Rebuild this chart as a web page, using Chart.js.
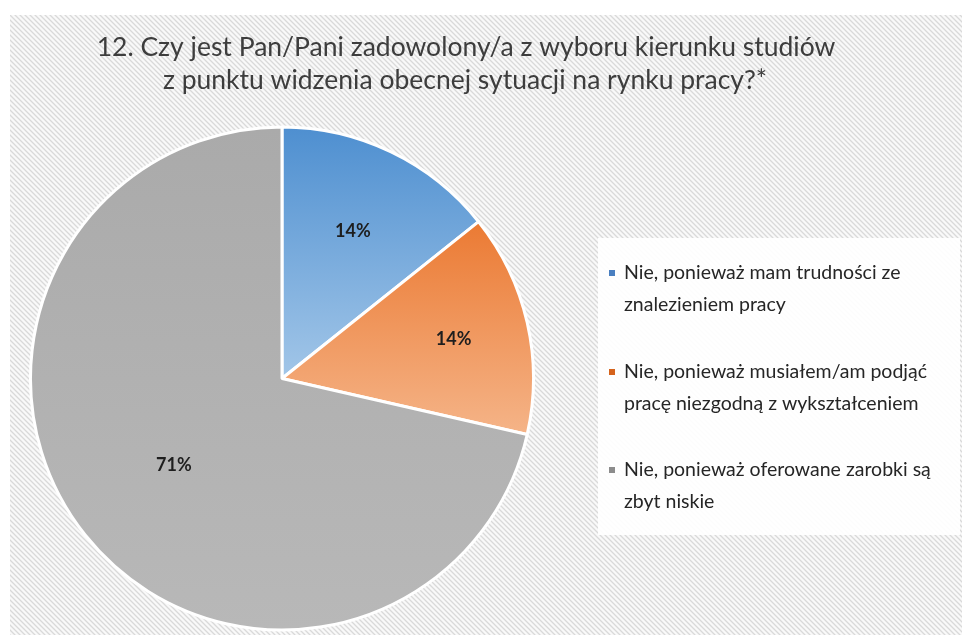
<!DOCTYPE html>
<html>
<head>
<meta charset="utf-8">
<script src="https://cdn.jsdelivr.net/npm/chart.js@4.4.1/dist/chart.umd.min.js"></script>
<style>
    html, body { margin: 0; padding: 0; background: #fff; }
    #wrap { width: 962px; height: 635px; position: relative; }
</style>
</head>
<body>
<div id="wrap"><canvas id="pieChart"></canvas></div>
<script>
// Data (1 : 1 : 5 answers -> 14% / 14% / 71%)
const titleLines = [
    '12. Czy jest Pan/Pani zadowolony/a z wyboru kierunku studiów',
    'z punktu widzenia obecnej sytuacji na rynku pracy?*'
];
const categories = [
    ['Nie, ponieważ mam trudności ze', 'znalezieniem pracy'],
    ['Nie, ponieważ musiałem/am podjąć', 'pracę niezgodną z wykształceniem'],
    ['Nie, ponieważ oferowane zarobki są', 'zbyt niskie']
];
const values = [1, 1, 5];
const percentLabels = ['14%', '14%', '71%'];

// styling
const gradTop = ['#4e8fd0', '#eb7a33', '#aaaaaa'];
const gradBottom = ['#a2c6e8', '#f5b488', '#b8b8b8'];
const markerColors = ['#4a7fc0', '#d5631c', '#8c8c8c'];
const labelRadius = [0.65, 0.70, 0.55];

// hatched background like the Excel pattern fill
const makeHatch = (ctx) => {
    const tile = document.createElement('canvas');
    tile.width = 5; tile.height = 5;
    const t = tile.getContext('2d');
    t.fillStyle = '#f9f9f9';
    t.fillRect(0, 0, 5, 5);
    t.strokeStyle = '#d9d9d9';
    t.lineWidth = 1.3;
    t.beginPath();
    t.moveTo(-1, -1); t.lineTo(6, 6);
    t.moveTo(-1, 4); t.lineTo(1, 6);
    t.moveTo(4, -1); t.lineTo(6, 1);
    t.stroke();
    return ctx.createPattern(tile, 'repeat');
};

const backgroundPlugin = {
    id: 'hatchBackground',
    beforeDraw(chart) {
        const ctx = chart.ctx;
        ctx.save();
        ctx.fillStyle = '#ffffff';
        ctx.fillRect(0, 0, chart.width, chart.height);
        ctx.fillStyle = makeHatch(ctx);
        ctx.fillRect(10, 15, chart.width - 10, chart.height - 15);

        // title
        ctx.fillStyle = '#3d3d3d';
        ctx.font = '26.5px Lato, "Open Sans", sans-serif';
        ctx.textAlign = 'center';
        ctx.textBaseline = 'middle';
        ctx.fillText(titleLines[0], 466, 47);
        ctx.fillText(titleLines[1], 465, 80);

        // legend box
        ctx.fillStyle = 'rgba(255,255,255,0.92)';
        ctx.fillRect(598, 238, 362, 297);
        ctx.font = '19.5px Lato, "Open Sans", sans-serif';
        ctx.textAlign = 'left';
        const rowY = [273, 372, 470];
        categories.forEach((lines, i) => {
            ctx.fillStyle = markerColors[i];
            ctx.fillRect(609, rowY[i] - 3, 6, 6);
            ctx.fillStyle = '#262626';
            lines.forEach((line, j) => ctx.fillText(line, 624, rowY[i] + j * 32));
        });
        ctx.restore();
    }
};

// vertical gradient across each slice's own bounding box
const sliceGradientPlugin = {
    id: 'sliceGradient',
    beforeDatasetsDraw(chart) {
        const ctx = chart.ctx;
        const arcs = chart.getDatasetMeta(0).data;
        arcs.forEach((arc, i) => {
            const { x, y, outerRadius, startAngle, endAngle } = arc.getProps(['x', 'y', 'outerRadius', 'startAngle', 'endAngle'], true);
            const ys = [y, y + Math.sin(startAngle) * outerRadius, y + Math.sin(endAngle) * outerRadius];
            const has = (a) => {
                for (let k = -2; k <= 2; k++) {
                    const v = a + k * 2 * Math.PI;
                    if (v >= startAngle && v <= endAngle) return true;
                }
                return false;
            };
            if (has(-Math.PI / 2)) ys.push(y - outerRadius);
            if (has(Math.PI / 2)) ys.push(y + outerRadius);
            const g = ctx.createLinearGradient(0, Math.min(...ys), 0, Math.max(...ys));
            g.addColorStop(0, gradTop[i]);
            g.addColorStop(1, gradBottom[i]);
            arc.options.backgroundColor = g;
        });
    },
    afterDatasetsDraw(chart) {
        const ctx = chart.ctx;
        const arcs = chart.getDatasetMeta(0).data;
        ctx.save();
        ctx.font = 'bold 18px Lato, "Open Sans", sans-serif';
        ctx.fillStyle = '#1e1e1e';
        ctx.textAlign = 'center';
        ctx.textBaseline = 'middle';
        arcs.forEach((arc, i) => {
            const { x, y, outerRadius, startAngle, endAngle } = arc.getProps(['x', 'y', 'outerRadius', 'startAngle', 'endAngle'], true);
            const mid = (startAngle + endAngle) / 2;
            const r = outerRadius * labelRadius[i];
            ctx.fillText(percentLabels[i], x + Math.cos(mid) * r, y + Math.sin(mid) * r);
        });
        ctx.restore();
    }
};

const pieCtx = document.getElementById('pieChart').getContext('2d');
new Chart(pieCtx, {
    type: 'pie',
    data: {
        labels: categories.map(c => c.join(' ')),
        datasets: [{
            data: values,
            backgroundColor: gradTop,
            borderColor: '#ffffff',
            borderWidth: 3
        }]
    },
    options: {
        responsive: true,
        maintainAspectRatio: false,
        animation: false,
        layout: {
            padding: { left: 29, right: 427, top: 125, bottom: 3 }
        },
        plugins: {
            legend: { display: false },
            title: { display: false },
            tooltip: { enabled: false }
        }
    },
    plugins: [backgroundPlugin, sliceGradientPlugin]
});
</script>
</body>
</html>
